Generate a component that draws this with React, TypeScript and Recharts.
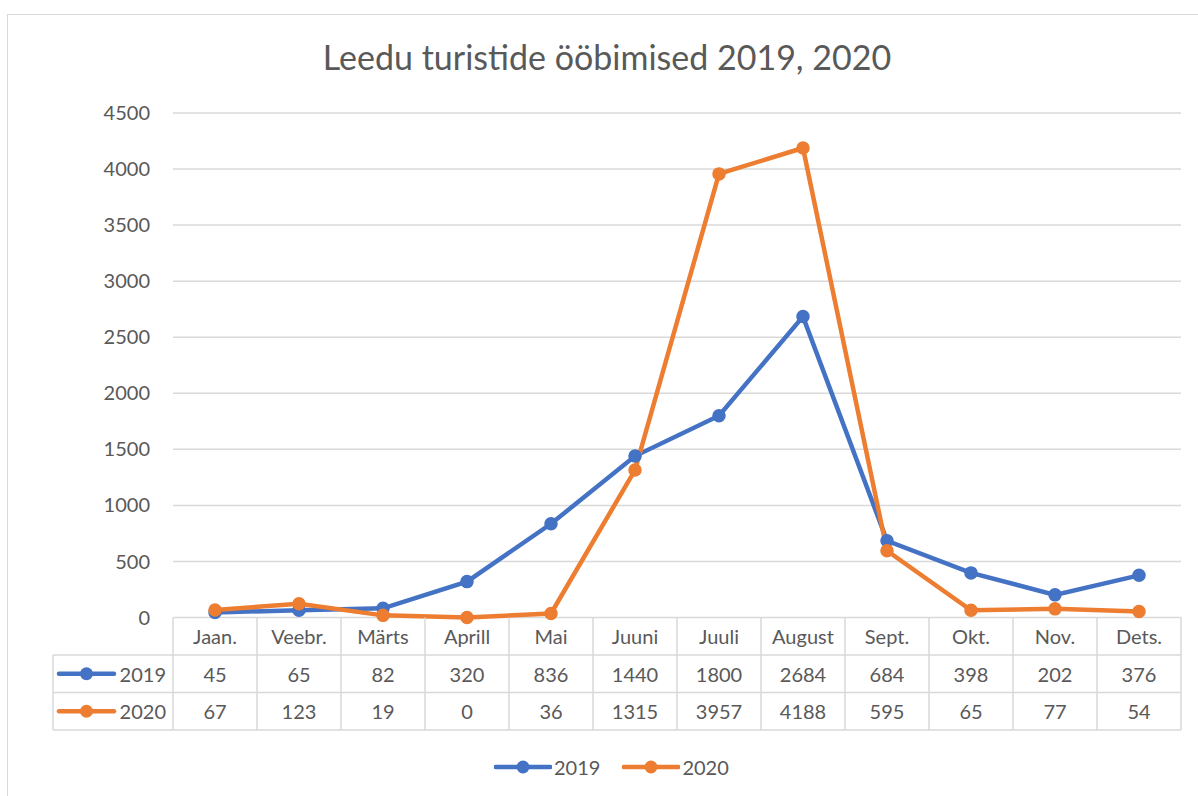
import React from "react";
import { LineChart, Line, XAxis, YAxis, CartesianGrid } from "recharts";

const MONTHS = ["Jaan.", "Veebr.", "Märts", "Aprill", "Mai", "Juuni", "Juuli", "August", "Sept.", "Okt.", "Nov.", "Dets."];
const V2019 = [45, 65, 82, 320, 836, 1440, 1800, 2684, 684, 398, 202, 376];
const V2020 = [67, 123, 19, 0, 36, 1315, 3957, 4188, 595, 65, 77, 54];
const Y_TICKS = [0, 500, 1000, 1500, 2000, 2500, 3000, 3500, 4000, 4500];
const SERIES = [
  { key: "y2019", name: "2019", color: "#4472C4", values: V2019 },
  { key: "y2020", name: "2020", color: "#ED7D31", values: V2020 },
];

const TITLE = "Leedu turistide ööbimised 2019, 2020";

const W = 1198;
const H = 796;
const FONT = "Lato, 'Open Sans', sans-serif";
const TEXT = "#595959";
const GRID = "#d9d9d9";
const PLOT_LEFT = 173;
const PLOT_RIGHT = 1181;
const COL_W = (PLOT_RIGHT - PLOT_LEFT) / MONTHS.length;
const ROW_H = 37.5;
const TABLE_LEFT = 53;

const data = MONTHS.map((m, i) => {
  const row: any = { month: m };
  SERIES.forEach((s) => (row[s.key] = s.values[i]));
  return row;
});

// legend key drawn inside the table and under the chart
function Key({ x, y, color }: { x: number; y: number; color: string }) {
  return (
    <g>
      <line x1={x} x2={x + 55} y1={y} y2={y} stroke={color} strokeWidth={4.5} strokeLinecap="round" />
      <circle cx={x + 27.5} cy={y} r={6.5} fill={color} />
    </g>
  );
}

function TableTick(props: any) {
  const { x, y, payload } = props;
  const i = payload.index;
  const left = x - COL_W / 2;
  const right = x + COL_W / 2;
  const bottom = y + ROW_H * 3;
  return (
    <g>
      <line x1={left} x2={left} y1={y} y2={bottom} stroke={GRID} strokeWidth={1.5} />
      {i === MONTHS.length - 1 && <line x1={right} x2={right} y1={y} y2={bottom} stroke={GRID} strokeWidth={1.5} />}
      {[1, 2, 3].map((r) => (
        <line key={r} x1={left} x2={right} y1={y + ROW_H * r} y2={y + ROW_H * r} stroke={GRID} strokeWidth={1.5} />
      ))}
      <text x={x} y={y + ROW_H / 2} textAnchor="middle" dominantBaseline="central" fill={TEXT} fontSize={20} fontFamily={FONT}>
        {payload.value}
      </text>
      {SERIES.map((s, r) => (
        <text key={s.key} x={x} y={y + ROW_H * (r + 1.5)} textAnchor="middle" dominantBaseline="central" fill={TEXT} fontSize={20} fontFamily={FONT}>
          {s.values[i]}
        </text>
      ))}
      {i === 0 && (
        <g>
          <line x1={TABLE_LEFT} x2={TABLE_LEFT} y1={y + ROW_H} y2={bottom} stroke={GRID} strokeWidth={1.5} />
          {[1, 2, 3].map((r) => (
            <line key={r} x1={TABLE_LEFT} x2={left} y1={y + ROW_H * r} y2={y + ROW_H * r} stroke={GRID} strokeWidth={1.5} />
          ))}
          {SERIES.map((s, r) => (
            <g key={s.key}>
              <Key x={TABLE_LEFT + 6} y={y + ROW_H * (r + 1.5)} color={s.color} />
              <text x={left - 7} y={y + ROW_H * (r + 1.5)} textAnchor="end" dominantBaseline="central" fill={TEXT} fontSize={20} fontFamily={FONT}>
                {s.name}
              </text>
            </g>
          ))}
        </g>
      )}
    </g>
  );
}

export default function App() {
  return (
    <div style={{ position: "absolute", left: 0, top: 0, width: W, height: H, background: "#fff", overflow: "hidden" }}>
      <div style={{ position: "absolute", left: 7, top: 14, width: 1220, height: 820, border: `1px solid ${GRID}` }} />
      <div
        style={{
          position: "absolute", left: 7, top: 40, width: 1200, textAlign: "center",
          fontFamily: FONT, fontSize: 34, lineHeight: 1, color: TEXT,
        }}
      >
        {TITLE}
      </div>
      <div style={{ position: "absolute", left: 0, top: 0 }}>
        <LineChart width={W} height={H} data={data} margin={{ top: 113, right: W - PLOT_RIGHT, left: PLOT_LEFT - 60, bottom: 66 }}>
          <CartesianGrid vertical={false} stroke={GRID} strokeWidth={1.5} />
          <XAxis
            dataKey="month"
            interval={0}
            axisLine={false}
            tickLine={false}
            tickSize={0}
            tickMargin={0}
            padding={{ left: COL_W / 2, right: COL_W / 2 }}
            height={ROW_H * 3}
            tick={<TableTick />}
          />
          <YAxis
            domain={[0, 4500]}
            ticks={Y_TICKS}
            width={60}
            axisLine={false}
            tickLine={false}
            tickSize={0}
            tickMargin={23}
            tick={{ fill: TEXT, fontSize: 20, fontFamily: FONT }}
          />
          {SERIES.map((s) => (
            <Line
              key={s.key}
              dataKey={s.key}
              name={s.name}
              stroke={s.color}
              strokeWidth={4.5}
              dot={{ r: 6, fill: s.color, stroke: s.color, strokeWidth: 1.5 }}
              isAnimationActive={false}
            />
          ))}
        </LineChart>
      </div>
      <div style={{ position: "absolute", left: 494, top: 752, height: 30, display: "flex", alignItems: "center", fontFamily: FONT, fontSize: 20, color: TEXT }}>
        {SERIES.map((s, i) => (
          <div key={s.key} style={{ display: "flex", alignItems: "center", marginLeft: i === 0 ? 0 : 22 }}>
            <svg width={58} height={16}>
              <Key x={1.5} y={8} color={s.color} />
            </svg>
            <span style={{ marginLeft: 2 }}>{s.name}</span>
          </div>
        ))}
      </div>
    </div>
  );
}
